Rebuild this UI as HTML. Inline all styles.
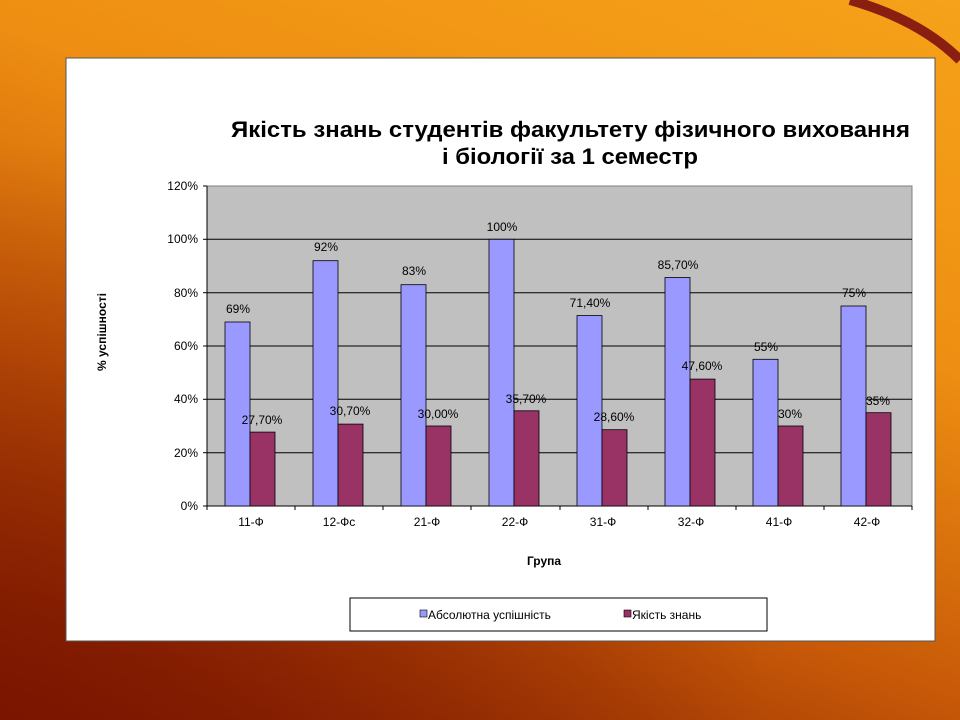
<!DOCTYPE html>
<html><head><meta charset="utf-8"><style>
html,body{margin:0;padding:0;width:960px;height:720px;overflow:hidden}
body{background:linear-gradient(200deg,#f6a21a 0%,#ee8e12 35%,#c85a08 65%,#7c1800 100%)}
svg{position:absolute;left:0;top:0}
text{font-family:"Liberation Sans",sans-serif}
</style></head><body>
<svg width="960" height="720" viewBox="0 0 960 720">
<defs>
<radialGradient id="g1" cx="0" cy="1" r="0.8"><stop offset="0" stop-color="#7a1400" stop-opacity="0.8"/><stop offset="1" stop-color="#7a1400" stop-opacity="0"/></radialGradient>
</defs>
<rect width="960" height="720" fill="url(#g1)"/>
<path d="M850 0 Q920 20 960 60" stroke="#8a1e10" stroke-width="10" fill="none"/>
<rect x="66" y="58" width="869" height="583" fill="#fff" stroke="#555" stroke-width="1"/>
<text x="231" y="137" font-size="22" font-weight="bold" textLength="679" lengthAdjust="spacingAndGlyphs">Якість знань студентів факультету фізичного виховання</text>
<text x="442" y="164" font-size="22" font-weight="bold" textLength="256" lengthAdjust="spacingAndGlyphs">і біології за 1 семестр</text>
<rect x="207" y="186" width="705" height="320" fill="#c0c0c0" stroke="#808080"/>
<g stroke="#000" stroke-width="1">
<line x1="207" y1="239.3" x2="912" y2="239.3"/>
<line x1="207" y1="292.7" x2="912" y2="292.7"/>
<line x1="207" y1="346" x2="912" y2="346"/>
<line x1="207" y1="399.3" x2="912" y2="399.3"/>
<line x1="207" y1="452.7" x2="912" y2="452.7"/>
<line x1="207" y1="186" x2="207" y2="506"/>
<line x1="203" y1="506" x2="912" y2="506"/>
<line x1="203" y1="186" x2="207" y2="186"/><line x1="203" y1="239.3" x2="207" y2="239.3"/><line x1="203" y1="292.7" x2="207" y2="292.7"/><line x1="203" y1="346" x2="207" y2="346"/><line x1="203" y1="399.3" x2="207" y2="399.3"/><line x1="203" y1="452.7" x2="207" y2="452.7"/>
<line x1="295" y1="506" x2="295" y2="510"/><line x1="383" y1="506" x2="383" y2="510"/><line x1="471" y1="506" x2="471" y2="510"/><line x1="560" y1="506" x2="560" y2="510"/><line x1="648" y1="506" x2="648" y2="510"/><line x1="736" y1="506" x2="736" y2="510"/><line x1="824" y1="506" x2="824" y2="510"/><line x1="912" y1="506" x2="912" y2="510"/><line x1="207" y1="506" x2="207" y2="510"/>
</g>
<g font-size="12" text-anchor="end">
<text x="198" y="190">120%</text><text x="198" y="243">100%</text><text x="198" y="297">80%</text><text x="198" y="350">60%</text><text x="198" y="403">40%</text><text x="198" y="457">20%</text><text x="198" y="510">0%</text>
</g>
<text transform="translate(106,332) rotate(-90)" font-size="12" font-weight="bold" text-anchor="middle">% успішності</text>
<text x="544" y="565" font-size="12" font-weight="bold" text-anchor="middle">Група</text>
<g stroke="#000" stroke-width="0.8">
<rect x="225" y="322" width="25" height="184" fill="#9999ff"/><rect x="250" y="432.1" width="25" height="73.9" fill="#993366"/>
<rect x="313" y="260.7" width="25" height="245.3" fill="#9999ff"/><rect x="338" y="424.1" width="25" height="81.9" fill="#993366"/>
<rect x="401" y="284.7" width="25" height="221.3" fill="#9999ff"/><rect x="426" y="426" width="25" height="80" fill="#993366"/>
<rect x="489" y="239.3" width="25" height="266.7" fill="#9999ff"/><rect x="514" y="410.8" width="25" height="95.2" fill="#993366"/>
<rect x="577" y="315.6" width="25" height="190.4" fill="#9999ff"/><rect x="602" y="429.7" width="25" height="76.3" fill="#993366"/>
<rect x="665" y="277.5" width="25" height="228.5" fill="#9999ff"/><rect x="690" y="379.1" width="25" height="126.9" fill="#993366"/>
<rect x="753" y="359.3" width="25" height="146.7" fill="#9999ff"/><rect x="778" y="426" width="25" height="80" fill="#993366"/>
<rect x="841" y="306" width="25" height="200" fill="#9999ff"/><rect x="866" y="412.7" width="25" height="93.3" fill="#993366"/>
</g>
<g font-size="12" text-anchor="middle">
<text x="238" y="313">69%</text><text x="262" y="424">27,70%</text>
<text x="326" y="251">92%</text><text x="350" y="415">30,70%</text>
<text x="414" y="275">83%</text><text x="438" y="418">30,00%</text>
<text x="502" y="231">100%</text><text x="526" y="403">35,70%</text>
<text x="590" y="307">71,40%</text><text x="614" y="421">28,60%</text>
<text x="678" y="269">85,70%</text><text x="702" y="370">47,60%</text>
<text x="766" y="351">55%</text><text x="790" y="418">30%</text>
<text x="854" y="297">75%</text><text x="878" y="405">35%</text>
</g>
<g font-size="12" text-anchor="middle">
<text x="251" y="526">11-Ф</text><text x="339" y="526">12-Фс</text><text x="427" y="526">21-Ф</text><text x="515" y="526">22-Ф</text><text x="603" y="526">31-Ф</text><text x="691" y="526">32-Ф</text><text x="779" y="526">41-Ф</text><text x="867" y="526">42-Ф</text>
</g>
<rect x="350" y="598" width="417" height="33" fill="#fff" stroke="#000"/>
<rect x="420" y="610" width="7" height="7" fill="#9999ff" stroke="#000" stroke-width="0.6"/>
<text x="428" y="619" font-size="12">Абсолютна успішність</text>
<rect x="624" y="610" width="7" height="7" fill="#993366" stroke="#000" stroke-width="0.6"/>
<text x="632" y="619" font-size="12">Якість знань</text>
</svg>
</body></html>
